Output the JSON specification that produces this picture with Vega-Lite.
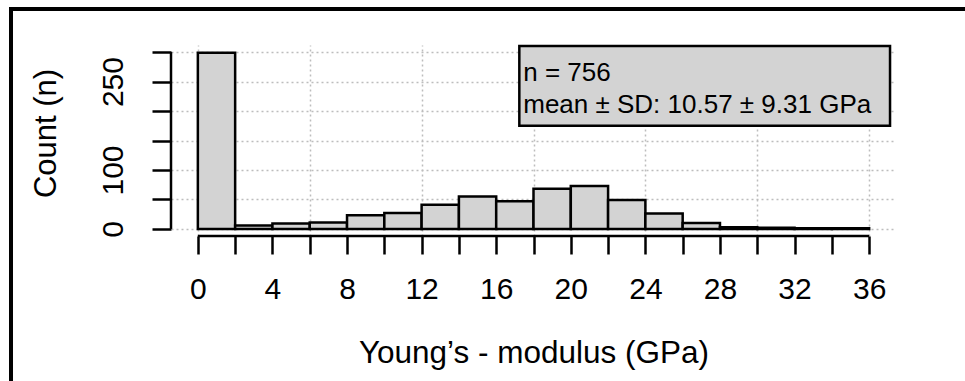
{
  "$schema": "https://vega.github.io/schema/vega-lite/v6.json",
  "width": 725,
  "height": 191,
  "autosize": "none",
  "padding": {"left": 171, "top": 45, "right": 69, "bottom": 145},
  "background": "white",
  "config": {"font": "Liberation Sans", "view": {"stroke": null}},
  "data": {"values": [
    {"start": 0, "end": 2, "count": 299},
    {"start": 2, "end": 4, "count": 6},
    {"start": 4, "end": 6, "count": 9},
    {"start": 6, "end": 8, "count": 11},
    {"start": 8, "end": 10, "count": 23},
    {"start": 10, "end": 12, "count": 27},
    {"start": 12, "end": 14, "count": 41},
    {"start": 14, "end": 16, "count": 55},
    {"start": 16, "end": 18, "count": 47},
    {"start": 18, "end": 20, "count": 68},
    {"start": 20, "end": 22, "count": 73},
    {"start": 22, "end": 24, "count": 49},
    {"start": 24, "end": 26, "count": 26},
    {"start": 26, "end": 28, "count": 10},
    {"start": 28, "end": 30, "count": 3},
    {"start": 30, "end": 32, "count": 2},
    {"start": 32, "end": 34, "count": 1},
    {"start": 34, "end": 36, "count": 1}
  ]},
  "layer": [
    {
      "data": {"values": [{}]},
      "mark": {"type": "rule", "strokeWidth": 2.5, "color": "black"},
      "encoding": {
        "x": {"datum": 0, "type": "quantitative",
          "scale": {"domain": [-1.44, 37.44], "nice": false, "zero": false},
          "axis": {"orient": "top", "values": [0, 6, 12, 18, 24, 30, 36], "grid": true, "labels": false, "ticks": false, "domain": false, "title": null, "gridDash": [2, 3], "gridColor": "#bdbdbd", "gridWidth": 1.5}},
        "x2": {"datum": 36},
        "y": {"datum": -12, "type": "quantitative",
          "scale": {"domain": [-12, 312], "nice": false, "zero": false},
          "axis": null}
      }
    },
    {
      "mark": {"type": "rect", "fill": "#d3d3d3", "stroke": "black", "strokeWidth": 2.5},
      "encoding": {
        "x": {"field": "start", "type": "quantitative",
          "axis": {"orient": "bottom", "values": [0, 2, 4, 6, 8, 10, 12, 14, 16, 18, 20, 22, 24, 26, 28, 30, 32, 34, 36],
            "tickSize": 18, "tickWidth": 2.5, "tickColor": "black", "domain": false, "grid": false,
            "labelExpr": "datum.value % 4 == 0 ? datum.label : ''",
            "labelFontSize": 30, "labelPadding": 20, "labelColor": "black", "labelFlush": false, "labelOverlap": false,
            "title": "Young’s - modulus (GPa)", "titleFontSize": 31.5, "titleFontWeight": "normal", "titleColor": "black", "titlePadding": 33}},
        "x2": {"field": "end"},
        "y": {"field": "count", "type": "quantitative",
          "axis": {"orient": "left", "values": [0, 50, 100, 150, 200, 250, 300],
            "tickSize": 19, "tickWidth": 2.5, "tickColor": "black", "domain": false,
            "grid": true, "gridDash": [2, 3], "gridColor": "#bdbdbd", "gridWidth": 1.5,
            "labelExpr": "datum.value == 0 || datum.value == 100 || datum.value == 250 ? datum.label : ''",
            "labelAngle": -90, "labelAlign": "center", "labelBaseline": "bottom",
            "labelFontSize": 30, "labelPadding": 24, "labelColor": "black", "labelOverlap": false, "labelFlush": false,
            "title": "Count (n)", "titleFontSize": 31, "titleFontWeight": "normal", "titleColor": "black", "titlePadding": 36, "titleY": 88}},
        "y2": {"datum": 0}
      }
    },
    {
      "data": {"values": [{}]},
      "mark": {"type": "rule", "strokeWidth": 2.5, "color": "black"},
      "encoding": {
        "x": {"datum": -1.44, "type": "quantitative", "axis": null},
        "y": {"datum": 0, "type": "quantitative", "axis": null},
        "y2": {"datum": 300}
      }
    },
    {
      "data": {"values": [{}]},
      "mark": {"type": "rect", "fill": "#d3d3d3", "stroke": "black", "strokeWidth": 2.5},
      "encoding": {
        "x": {"datum": 17.24, "type": "quantitative", "axis": null},
        "x2": {"datum": 37.12},
        "y": {"datum": 310.3, "type": "quantitative", "axis": null},
        "y2": {"datum": 175.1}
      }
    },
    {
      "data": {"values": [{}]},
      "mark": {"type": "text", "align": "left", "baseline": "alphabetic", "fontSize": 26, "color": "black"},
      "encoding": {
        "x": {"datum": 17.45, "type": "quantitative", "axis": null},
        "y": {"datum": 251.4, "type": "quantitative", "axis": null},
        "text": {"value": "n = 756"}
      }
    },
    {
      "data": {"values": [{}]},
      "mark": {"type": "text", "align": "left", "baseline": "alphabetic", "fontSize": 26, "color": "black"},
      "encoding": {
        "x": {"datum": 17.45, "type": "quantitative", "axis": null},
        "y": {"datum": 196.1, "type": "quantitative", "axis": null},
        "text": {"value": "mean ± SD: 10.57 ± 9.31 GPa"}
      }
    },
    {
      "data": {"values": [{}]},
      "mark": {"type": "rule", "strokeWidth": 4, "color": "black"},
      "encoding": {
        "x": {"datum": -10.12, "type": "quantitative", "axis": null},
        "x2": {"datum": 42},
        "y": {"datum": 373.0, "type": "quantitative", "axis": null}
      }
    },
    {
      "data": {"values": [{}]},
      "mark": {"type": "rule", "strokeWidth": 4, "color": "black"},
      "encoding": {
        "x": {"datum": -10.02, "type": "quantitative", "axis": null},
        "y": {"datum": 376.4, "type": "quantitative", "axis": null},
        "y2": {"datum": -260}
      }
    }
  ],
  "resolve": {"axis": {"x": "independent", "y": "independent"}}
}
